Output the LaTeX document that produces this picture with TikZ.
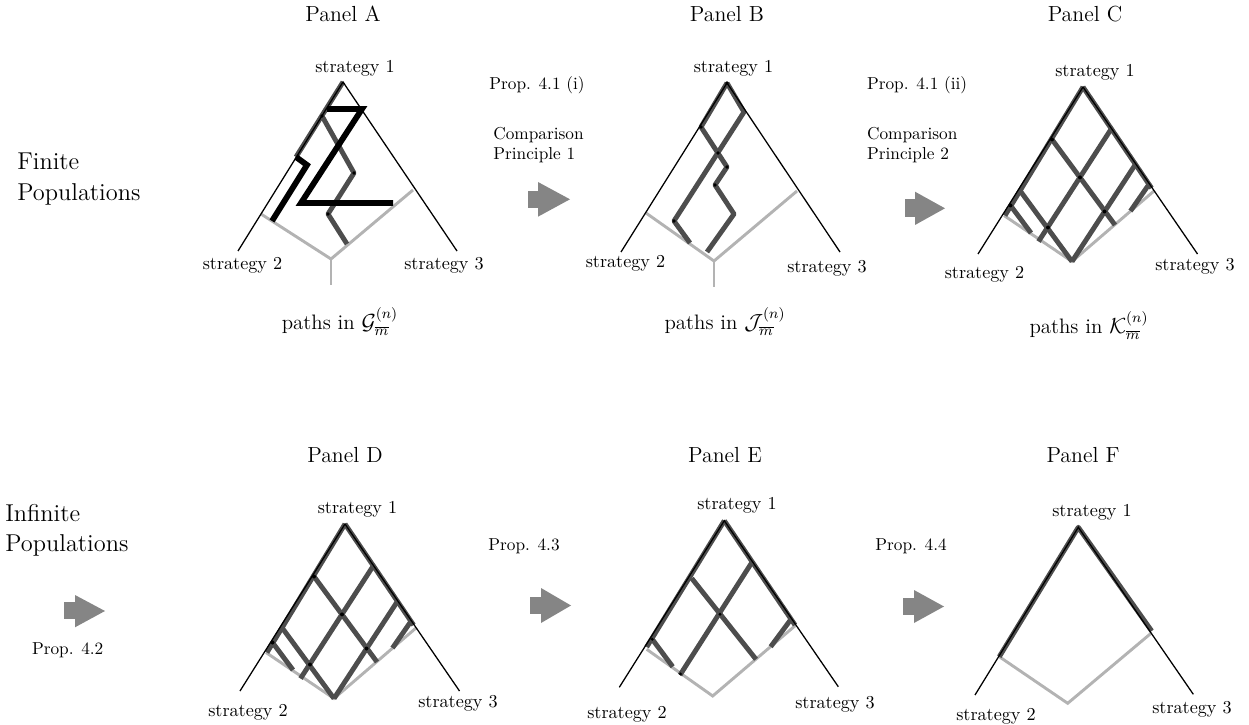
\documentclass[tikz,border=0pt]{standalone}
\usepackage{amsmath}
\definecolor{dkgray}{HTML}{4D4D4D}
\definecolor{ltgray}{HTML}{B3B3B3}
\definecolor{arrgray}{HTML}{858585}
\newcommand{\gridCD}[1]{%
\begin{scope}[shift={#1}]
 \draw[lt] (-79,128.5) -- (-11,174.5) -- (71,104);
 \draw[dk] (0,0) -- (-78,128.5);
 \draw[dk] (0,0) -- (68.5,101);
 \draw[dk] (-31,52.5) -- (32,138);
 \draw[dk] (-62,105) -- (-11,174.5);
 \draw[dk] (-72.5,118.5) -- (-52,146);
 \draw[dk] (28.5,41.5) -- (-44.5,154.5);
 \draw[dk] (52,78) -- (-11,174.5);
 \draw[dk] (65.5,98) -- (47.5,124);
 \draw[tri] (-105,167) -- (0,0) -- (114.5,167);
 \foreach \p in {(-31,52.5),(-3,90.4),(-35,140.5),(21.5,124.5),(-72.5,118.5)} \fill \p circle (1.1pt);
\end{scope}}
\begin{document}
\begin{tikzpicture}[x=0.55pt,y=-0.55pt,
  tri/.style={line width=0.7pt},
  dk/.style={draw=dkgray,line width=2.7pt,line join=round},
  lt/.style={draw=ltgray,line width=1.6pt},
  blk/.style={draw=black,line width=3.2pt},
  lbl/.style={font=\fontsize{10}{12}\selectfont,anchor=base,inner sep=0pt},
  ttl/.style={font=\fontsize{12}{14}\selectfont,anchor=base,inner sep=0pt},
  prop/.style={font=\fontsize{9.5}{11}\selectfont,anchor=base west,inner sep=0pt},
  big/.style={font=\fontsize{13.4}{17}\selectfont,anchor=base west,inner sep=0pt},
  pth/.style={font=\fontsize{11.5}{14}\selectfont,anchor=base,inner sep=0pt},
  barrow/.style={fill=arrgray}]
\useasboundingbox (0,0) rectangle (1249,725);

% ---------- Panel A ----------
\draw[lt] (261,214) -- (331,259) -- (413,190);
\draw[lt] (331,259) -- (331,285);
\draw[dk] (343,82) -- (296,157);
\draw[dk] (322,116) -- (354,173) -- (328,214) -- (347,244);
\draw[tri] (238,251) -- (343,82) -- (457,251);
\draw[blk] (327,109) -- (362,109) -- (301,203) -- (393,203);
\draw[blk] (296,157) -- (307,165) -- (272,221);
\foreach \p in {(322,116),(354,173),(328,214)} \fill \p circle (1pt);

% ---------- Panel B ----------
\draw[lt] (646,213) -- (714,261) -- (797,191);
\draw[lt] (714,261) -- (714,287);
\draw[dk] (727,83) -- (701,127) -- (727,167) -- (715,185) -- (734,214) -- (707,252);
\draw[dk] (727,83) -- (744,112) -- (674,221) -- (690,243);
\draw[tri] (621,252) -- (727,83) -- (840,252);
\foreach \p in {(701,127),(718,153),(727,167),(715,185),(674,221),(727,83)} \fill \p circle (1pt);

% ---------- Panel C and D ----------
\gridCD{(1083,87)}
\gridCD{(345,524)}

% ---------- Panel E ----------
\draw[lt] (646.7,649.3) -- (712.7,696) -- (796,625);
\draw[dk] (724.3,520.7) -- (646.7,647);
\draw[dk] (724.3,520.7) -- (795,625);
\draw[dk] (691.7,578.3) -- (756,659.3);
\draw[dk] (652.3,639.3) -- (672.7,666.7);
\draw[dk] (751.7,562.7) -- (680,675);
\draw[dk] (791.7,618.3) -- (770.7,646.7);
\draw[tri] (619.3,687.3) -- (724.3,520.7) -- (838.3,686.7);
\foreach \p in {(720,614.3),(652.3,639.3),(680.5,674)} \fill \p circle (0.9pt);

% ---------- Panel F ----------
\draw[lt] (999.3,656.7) -- (1067.7,703.3) -- (1151,633.3);
\draw[dk] (999.3,656.7) -- (1078.3,527.3) -- (1151.7,631);
\draw[tri] (975,695) -- (1078.3,527.3) -- (1193.3,694.3);

% ---------- block arrows ----------
\fill[barrow] (528,190.7) rectangle (541.7,207.7);
\fill[barrow] (538,182) -- (570,199.3) -- (538,216.7) -- cycle;
\fill[barrow] (905,199.3) rectangle (918.3,216.7);
\fill[barrow] (915,191.7) -- (945,208.3) -- (915,225) -- cycle;
\fill[barrow] (64,601.7) rectangle (78.3,619.3);
\fill[barrow] (75,595) -- (105,611) -- (75,627.3) -- cycle;
\fill[barrow] (530,597) rectangle (544,614);
\fill[barrow] (541,588) -- (571,605.5) -- (541,623) -- cycle;
\fill[barrow] (903,598) rectangle (917,615);
\fill[barrow] (914,590) -- (944,606.5) -- (914,623) -- cycle;

% ---------- titles ----------
\node[ttl] (tA) at (343,22) {Panel A};
\node[ttl] (tB) at (727,22) {Panel B};
\node[ttl] (tC) at (1085,22) {Panel C};
\node[ttl] (tD) at (345,463) {Panel D};
\node[ttl] (tE) at (725,463) {Panel E};
\node[ttl] (tF) at (1083,463) {Panel F};

% ---------- row labels ----------
\node[big] (fin1) at (17,169.3) {Finite};
\node[big] (fin2) at (17,201) {Populations};
\node[big] (inf1) at (5,521.7) {Infinite};
\node[big] (inf2) at (5,551.7) {Populations};

% ---------- proposition labels ----------
\node[prop] (p41i) at (489,90) {Prop. 4.1 (i)};
\node[prop] (cp1a) at (493,140) {Comparison};
\node[prop] (cp1b) at (493,160) {Principle 1};
\node[prop] (p41ii) at (866.7,90) {Prop. 4.1 (ii)};
\node[prop] (cp2a) at (866.7,140) {Comparison};
\node[prop] (cp2b) at (866.7,160) {Principle 2};
\node[prop] (p42) at (31.7,654) {Prop. 4.2};
\node[prop] (p43) at (488,550) {Prop. 4.3};
\node[prop] (p44) at (875,550) {Prop. 4.4};

% ---------- path labels ----------
\node[pth] (gA) at (340,330) {paths in $\mathcal{G}^{(n)}_{\overline{m}}$};
\node[pth] (gB) at (725,330) {paths in $\mathcal{J}^{(n)}_{\overline{m}}$};
\node[pth] (gC) at (1089,334) {paths in $\mathcal{K}^{(n)}_{\overline{m}}$};

% ---------- strategy labels ----------
\node[lbl] (A1) at (355,72.5) {strategy 1};
\node[lbl] (A2) at (242.5,270) {strategy 2};
\node[lbl] (A3) at (444,270) {strategy 3};
\node[lbl] (B1) at (733.5,72.5) {strategy 1};
\node[lbl] (B2) at (625.5,268) {strategy 2};
\node[lbl] (B3) at (827,273) {strategy 3};
\node[lbl] (C1) at (1095,77) {strategy 1};
\node[lbl] (C2) at (984.5,279) {strategy 2};
\node[lbl] (C3) at (1195,271) {strategy 3};
\node[lbl] (D1) at (357.5,513) {strategy 1};
\node[lbl] (D2) at (248,716) {strategy 2};
\node[lbl] (D3) at (458,707) {strategy 3};
\node[lbl] (E1) at (737,509) {strategy 1};
\node[lbl] (E2) at (627,718) {strategy 2};
\node[lbl] (E3) at (835,708) {strategy 3};
\node[lbl] (F1) at (1092,516) {strategy 1};
\node[lbl] (F2) at (996,720) {strategy 2};
\node[lbl] (F3) at (1192,713) {strategy 3};
\end{tikzpicture}
\end{document}
